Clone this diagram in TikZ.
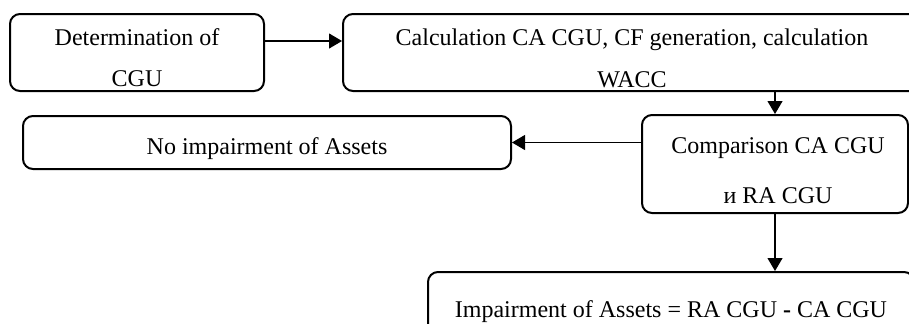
\documentclass[tikz,border=0pt]{standalone}
\usepackage{fontspec}
\setmainfont{Liberation Serif}
\usetikzlibrary{arrows.meta}
\begin{document}
\begin{tikzpicture}[x=0.5pt,y=-0.5pt,
  box/.style={draw=black,line width=1pt,rounded corners=5pt,inner sep=0pt},
  txt/.style={anchor=base,inner sep=0pt,font=\fontsize{12}{14}\selectfont},
  arr/.style={draw=black,line width=0.55pt,-{Triangle[length=6.5pt,width=7.5pt]}}]
\useasboundingbox (0,0) rectangle (909,323);
\clip (0,0) rectangle (909,323);
% boxes
\node[box,minimum width=254*0.5pt,minimum height=77*0.5pt] (b1) at (137,52.5) {};
\node[box,minimum width=578*0.5pt,minimum height=77*0.5pt] (b2) at (632,52.5) {};
\node[box,minimum width=488*0.5pt,minimum height=53*0.5pt] (b3) at (267,142.5) {};
\node[box,minimum width=266*0.5pt,minimum height=98*0.5pt] (b4) at (775,164) {};
\node[box,minimum width=486*0.5pt,minimum height=73*0.5pt] (b5) at (671,308.5) {};
% texts
\node[txt] (t1a) at (137,45) {Determination of};
\node[txt] (t1b) at (137,86) {CGU};
\node[txt] (t2a) at (632,45) {Calculation CA CGU, CF generation, calculation};
\node[txt] (t2b) at (632,87) {WACC};
\node[txt] (t3) at (267,154) {No impairment of Assets};
\node[txt] (t4a) at (778,153) {Comparison CA CGU};
\node[txt] (t4b) at (778,203) {и RA CGU};
\node[txt] (t5) at (671,317) {Impairment of Assets = RA CGU \textbf{-} CA CGU};
% connectors
\draw[arr] (b1.east |- 0,41) -- (b2.west |- 0,41);
\draw[arr] (b2.south -| b4.north) -- (b4.north);
\draw[arr] (b4.west |- b3.east) -- (b3.east);
\draw[arr] (b4.south) -- (b5.north -| b4.south);
\end{tikzpicture}
\end{document}
